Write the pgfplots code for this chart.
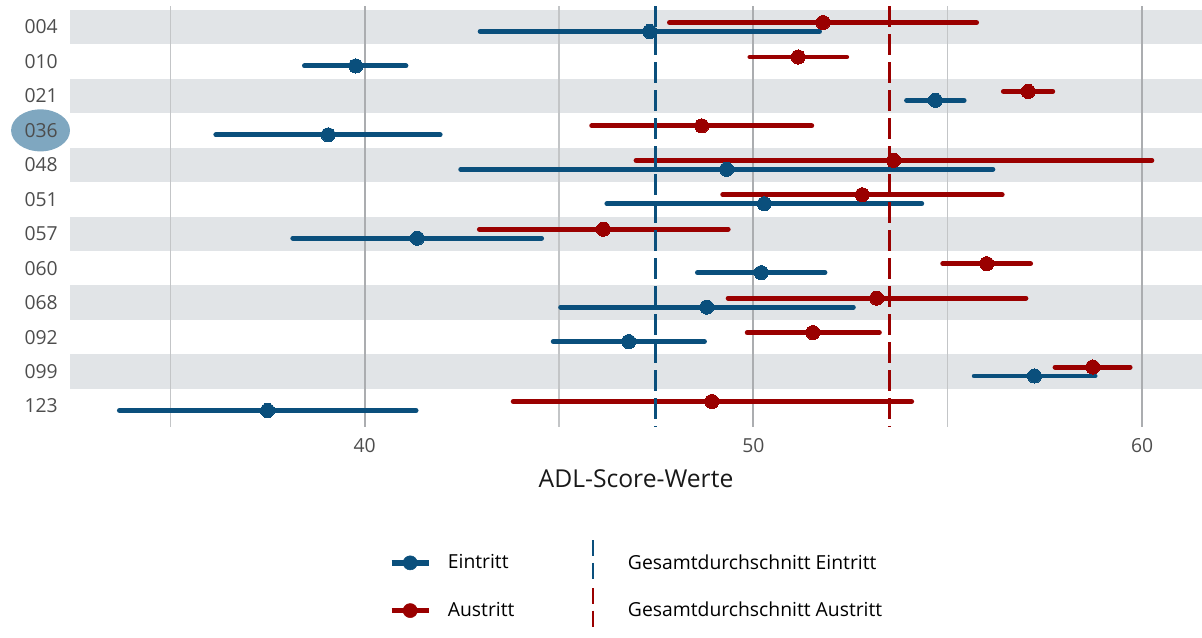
\documentclass[border=0pt]{standalone}
\usepackage{pgfplots}
\pgfplotsset{compat=1.18}
\usepackage{pgfplotstable}
\usepackage{fontspec}
\setmainfont{Open Sans}

\definecolor{eblue}{HTML}{0A4F7C}
\definecolor{ared}{HTML}{9A0000}
\definecolor{band}{HTML}{E1E4E7}
\definecolor{majgrid}{HTML}{ABADB0}
\definecolor{mingrid}{HTML}{C3C5C7}
\definecolor{ticktext}{HTML}{4D4D4D}
\definecolor{highlight}{HTML}{7FA7C0}

% row: patient (1 = top), lo / mid / hi of the interval
\pgfplotstableread{
row lo mid hi
1  42.97 47.33 51.70
2  38.45 39.77 41.06
3  53.94 54.68 55.42
4  36.17 39.06 41.94
5  42.47 49.31 56.16
6  46.23 50.28 54.33
7  38.15 41.35 44.55
8  48.56 50.20 51.84
9  45.04 48.80 52.57
10 44.85 46.79 48.74
11 55.68 57.23 58.79
12 33.69 37.50 41.32
}\eintritt

\pgfplotstableread{
row lo mid hi
1  47.84 51.79 55.74
2  49.91 51.15 52.40
3  56.43 57.07 57.70
4  45.84 48.67 51.50
5  46.98 53.61 60.25
6  49.21 52.80 56.40
7  42.95 46.14 49.35
8  54.87 56.00 57.13
9  49.35 53.17 57.01
10 49.84 51.53 53.24
11 57.76 58.73 59.69
12 43.82 48.93 54.07
}\austritt

\newcommand\tickfont{\fontsize{14.5}{17}\selectfont}
\newcommand\legfont{\fontsize{14.5}{17}\selectfont}

\begin{document}
\begin{tikzpicture}
\begin{axis}[
  set layers=standard,
  scale only axis, width=849pt, height=315.75pt,
  at={(0,0)}, anchor=south west,
  xmin=32.418, xmax=61.54, ymin=0.39, ymax=12.61, y dir=reverse,
  clip=false,
  xtick={40,50,60}, minor xtick={35,45,55},
  xmajorgrids, xminorgrids,
  major grid style={majgrid, line width=1.5pt},
  minor grid style={mingrid, line width=0.9pt},
  ytick={1,...,12},
  yticklabels={004,010,021,036,048,051,057,060,068,092,099,123},
  axis line style={draw=none},
  major tick length=0pt, minor tick length=0pt,
  tick style={draw=none},
  /pgf/number format/assume math mode=true,
  yticklabel style={font=\tickfont, text=ticktext, anchor=east, inner sep=0pt, xshift=-9pt},
  xticklabel style={font=\tickfont, text=ticktext, anchor=base, inner sep=0pt, yshift=-19pt},
  xlabel={ADL-Score-Werte},
  xlabel style={font=\fontsize{18.5}{22}\selectfont, text=black!90, at={(axis description cs:0.5,-0.1425)}, anchor=base, inner sep=0pt},
  legend columns=2,
  legend cell align=left,
  legend style={draw=none, fill=none, at={(axis description cs:0.2818,-0.266)}, anchor=north west,
    inner sep=0pt, outer sep=0pt, row sep=0pt,
    nodes={inner sep=0pt, font=\legfont, text=black},
    /tikz/every odd column/.style={column sep=12.4pt},
    /tikz/every even column/.style={column sep=45pt}},
]

\begin{pgfonlayer}{axis background}
  \fill[band] (axis cs:32.418,0.5) rectangle (axis cs:61.54,1.5);
  \fill[band] (axis cs:32.418,2.5) rectangle (axis cs:61.54,3.5);
  \fill[band] (axis cs:32.418,4.5) rectangle (axis cs:61.54,5.5);
  \fill[band] (axis cs:32.418,6.5) rectangle (axis cs:61.54,7.5);
  \fill[band] (axis cs:32.418,8.5) rectangle (axis cs:61.54,9.5);
  \fill[band] (axis cs:32.418,10.5) rectangle (axis cs:61.54,11.5);
  % highlighted patient label
  \fill[highlight] ([xshift=-22.1pt]axis cs:32.418,4) ellipse [x radius=22.1pt, y radius=15.75pt];
\end{pgfonlayer}

% Eintritt intervals
\addplot[forget plot, only marks, mark=*, mark size=5.3pt, color=eblue,
  mark options={line width=0pt},
  error bars/.cd, x dir=both, x explicit, error mark=none,
  error bar style={line width=3.7pt, line cap=round, color=eblue}]
  table[x=mid, y expr=\thisrow{row}+0.13,
        x error plus expr=\thisrow{hi}-\thisrow{mid},
        x error minus expr=\thisrow{mid}-\thisrow{lo}] {\eintritt};

% Austritt intervals
\addplot[forget plot, only marks, mark=*, mark size=5.3pt, color=ared,
  mark options={line width=0pt},
  error bars/.cd, x dir=both, x explicit, error mark=none,
  error bar style={line width=3.7pt, line cap=round, color=ared}]
  table[x=mid, y expr=\thisrow{row}-0.13,
        x error plus expr=\thisrow{hi}-\thisrow{mid},
        x error minus expr=\thisrow{mid}-\thisrow{lo}] {\austritt};

% overall means
\addplot[forget plot, eblue, line width=2.2pt, dash pattern=on 15.75pt off 5.25pt]
  coordinates {(47.47,0.39) (47.47,12.61)};
\addplot[forget plot, ared, line width=2.2pt, dash pattern=on 15.75pt off 5.25pt]
  coordinates {(53.49,0.39) (53.49,12.61)};

\addlegendimage{legend image code/.code={
  \draw[eblue, line width=4pt] (0pt,0pt) -- (27.75pt,0pt);
  \fill[eblue] (13.9pt,0pt) circle [radius=5.3pt];}}
\addlegendentry{Eintritt}
\addlegendimage{legend image code/.code={
  \path[draw=none, fill=none] (0pt,0pt) rectangle (27.75pt,0.1pt);
  \draw[eblue, line width=2pt, dash pattern=on 12pt off 5pt] (13.9pt,16.9pt) -- (13.9pt,-16.9pt);}}
\addlegendentry{Gesamtdurchschnitt Eintritt}
\addlegendimage{legend image code/.code={
  \draw[ared, line width=4pt] (0pt,0pt) -- (27.75pt,0pt);
  \fill[ared] (13.9pt,0pt) circle [radius=5.3pt];}}
\addlegendentry{Austritt}
\addlegendimage{legend image code/.code={
  \path[draw=none, fill=none] (0pt,0pt) rectangle (27.75pt,0.1pt);
  \draw[ared, line width=2pt, dash pattern=on 12pt off 5pt] (13.9pt,16.9pt) -- (13.9pt,-16.9pt);}}
\addlegendentry{Gesamtdurchschnitt Austritt}
\end{axis}
\pgfresetboundingbox
\path[use as bounding box] (-52.5pt,-157.5pt) rectangle (849pt,320.25pt);
\end{tikzpicture}
\end{document}
